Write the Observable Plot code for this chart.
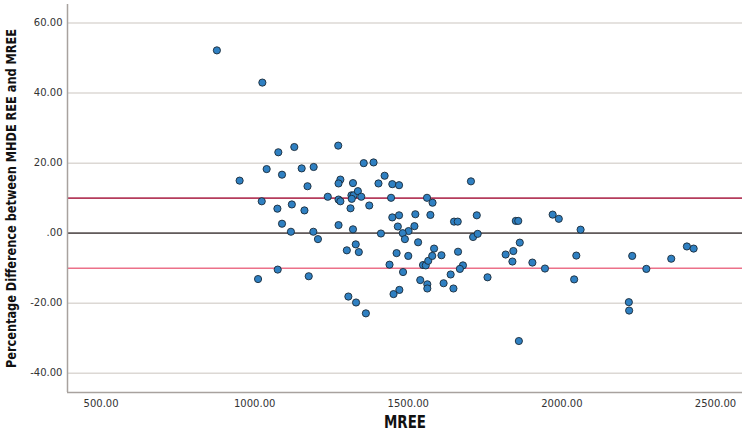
<!DOCTYPE html>
<html>
<head>
<meta charset="utf-8">
<script src="https://cdn.jsdelivr.net/npm/d3@7"></script>
<script src="https://cdn.jsdelivr.net/npm/@observablehq/plot@0.6"></script>
<style>
  html, body { margin: 0; padding: 0; background: #fff; }
  #chart { width: 747px; height: 436px; }
</style>
</head>
<body>
<div id="chart"></div>
<script>
// MREE (x) values
const mree = [877,1025,951,1023,1039,1077,1089,1129,1074,1121,
  1153,1172,1192,1162,1089,1118,1191,1206,1238,1272,
  1279,1273,1320,1273,1279,1312,1315,1322,1316,1336,
  1347,1355,1387,1403,1423,1448,1470,1444,1373,1273,
  1320,1411,1448,1470,1523,1466,1501,1482,1520,1489,
  1532,1561,1579,1572,1300,1329,1339,1462,1500,1011,
  1075,1176,1439,1483,1548,1557,1565,1539,1562,1562,
  1471,1452,1305,1330,1362,1584,1578,1608,1662,1678,
  1668,1638,1615,1647,1704,1649,1661,1723,1711,1726,
  1850,1858,1863,1758,1817,1842,1839,1904,1945,1970,
  1990,2061,2047,2040,1860,2218,2219,2229,2275,2356,
  2407,2429];
// Percentage difference between MHDE REE and MREE (y) values
const pctDiff = [52.2,43.0,15.0,9.1,18.3,23.1,16.7,24.6,7.0,8.2,
  18.5,13.4,18.9,6.5,2.7,0.4,0.4,-1.7,10.4,25.0,
  15.3,14.2,14.3,9.6,9.1,7.1,10.8,10.8,9.8,12.0,
  10.4,20.0,20.2,14.2,16.4,14.0,13.7,10.1,7.9,2.3,
  1.1,-0.1,4.5,5.1,5.4,1.9,0.6,0.0,2.0,-1.7,
  -2.6,10.1,8.7,5.2,-4.9,-3.2,-5.4,-5.7,-6.5,-13.1,
  -10.4,-12.3,-9.0,-11.1,-9.1,-9.2,-7.9,-13.4,-14.6,-15.8,
  -16.2,-17.4,-18.1,-19.8,-22.9,-4.4,-6.5,-6.3,-5.3,-9.2,
  -10.2,-11.8,-14.3,-15.8,14.8,3.3,3.3,5.1,-1.1,-0.2,
  3.5,3.5,-2.7,-12.6,-6.1,-5.1,-8.1,-8.4,-10.1,5.3,
  4.1,1.0,-6.4,-13.2,-30.8,-19.7,-22.1,-6.5,-10.2,-7.3,
  -3.8,-4.4];

const upperLimit = [10];
const meanLine = [0];
const lowerLimit = [-10];

const xTicks = [500, 1000, 1500, 2000, 2500];
const yTicks = [-40, -20, 0, 20, 40, 60];
const xDomain = [390.7, 2588];
const yDomain = [-45.5, 65.3];

const xTitle = "MREE";
const yTitle = "Percentage Difference between MHDE REE and MREE";

const points = mree.map((m, i) => ({mree: m, diff: pctDiff[i]}));
const fmt = d => d === 0 ? ".00" : d.toFixed(2);
const titleFont = "'Liberation Sans Narrow', 'DejaVu Sans Condensed', 'Liberation Sans', sans-serif";

const chart = Plot.plot({
  width: 747,
  height: 436,
  marginLeft: 67,
  marginRight: 5,
  marginTop: 4,
  marginBottom: 44,
  x: {domain: xDomain},
  y: {domain: yDomain},
  style: {fontFamily: "'DejaVu Sans', sans-serif", fontSize: "10px", color: "#333", background: "#fff"},
  marks: [
    Plot.gridY(yTicks, {stroke: "#dcd8d4", strokeOpacity: 1, strokeWidth: 1.5}),
    Plot.ruleY(upperLimit, {stroke: "#b53c5c", strokeWidth: 1.6}),
    Plot.ruleY(meanLine, {stroke: "#625b5b", strokeWidth: 1.6}),
    Plot.ruleY(lowerLimit, {stroke: "#ec7189", strokeWidth: 1.6}),
    Plot.ruleX([xDomain[0]], {stroke: "#a8a29e", strokeWidth: 1.5}),
    Plot.ruleY([yDomain[0]], {stroke: "#a8a29e", strokeWidth: 1.5}),
    Plot.axisY(yTicks, {tickSize: 0, tickPadding: 5, tickFormat: fmt, label: null, fill: "#333"}),
    Plot.axisX(xTicks, {tickSize: 0, tickPadding: 7, tickFormat: fmt, label: null, fill: "#333"}),
    Plot.dot(points, {x: "mree", y: "diff", r: 3.6, fill: "#2f80c2", stroke: "#1b2a38", strokeWidth: 0.9}),
    Plot.text([xTitle], {text: d => d, frameAnchor: "bottom", textAnchor: "middle", dy: 35, fontWeight: "bold", fontSize: 17, fontFamily: titleFont, fill: "#111", className: "xtitle"}),
    Plot.text([yTitle], {text: d => d, frameAnchor: "left", textAnchor: "middle", rotate: -90, dx: -56, fontWeight: "bold", fontSize: 13.5, fontFamily: titleFont, fill: "#111", className: "ytitle"})
  ]
});
document.getElementById("chart").appendChild(chart);
// fit title lengths to the reference
d3.select(chart).selectAll(".ytitle text").attr("textLength", 339).attr("lengthAdjust", "spacingAndGlyphs");
d3.select(chart).selectAll(".xtitle text").attr("textLength", 42).attr("lengthAdjust", "spacingAndGlyphs");
</script>
</body>
</html>
